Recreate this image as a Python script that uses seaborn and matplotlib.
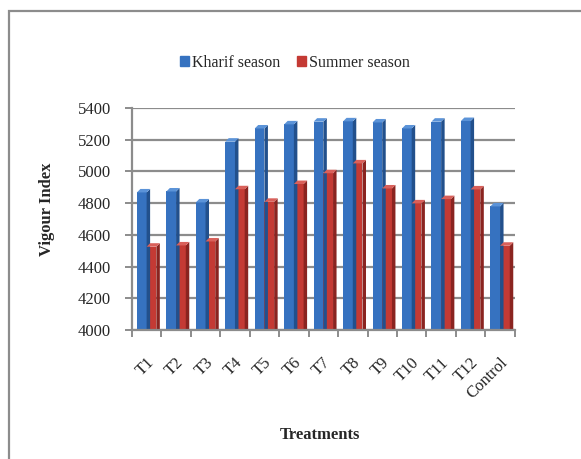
import matplotlib
matplotlib.use("Agg")
import matplotlib.pyplot as plt
import matplotlib.patches as mpatches
import matplotlib.transforms as mtransforms
from matplotlib.ticker import FixedLocator
import seaborn as sns
import pandas as pd

treatments = ["T1", "T2", "T3", "T4", "T5", "T6", "T7", "T8", "T9", "T10", "T11", "T12", "Control"]
kharif = [4867, 4873, 4804, 5187, 5270, 5296, 5313, 5315, 5308, 5270, 5313, 5317, 4779]
summer = [4525, 4533, 4558, 4887, 4808, 4920, 4988, 5050, 4892, 4798, 4825, 4886, 4531]
seasons = ["Kharif season", "Summer season"]
y_ticks = [4000, 4200, 4400, 4600, 4800, 5000, 5200, 5400]

df = pd.DataFrame({
    "Treatment": treatments * 2,
    "Season": [seasons[0]] * len(treatments) + [seasons[1]] * len(treatments),
    "Vigour": kharif + summer,
})

face = {seasons[0]: "#3672C0", seasons[1]: "#C43A34"}
side = {seasons[0]: "#22508C", seasons[1]: "#8A2420"}
top = {seasons[0]: "#5B93D8", seasons[1]: "#D9605A"}

sns.set_style("white")
plt.rcParams["font.family"] = ["Liberation Serif", "DejaVu Serif"]

fig = plt.figure(figsize=(5.81, 4.59), dpi=100)
ax = fig.add_axes([0.227, 0.281, 0.659, 0.484])

sns.barplot(data=df, x="Treatment", y="Vigour", hue="Season", palette=face,
            width=0.66, ax=ax, legend=False, saturation=1, linewidth=0)

n = len(treatments)
ax.set_ylim(4000, 5400)
ax.set_xlim(-0.5, n - 0.5)
ax.set_yticks(y_ticks)
ax.yaxis.grid(True, color="#8C8C8C", lw=1.6)
ax.set_axisbelow(True)
for s in ["top", "right"]:
    ax.spines[s].set_visible(False)
for s in ["left", "bottom"]:
    ax.spines[s].set_color("#8C8C8C")
    ax.spines[s].set_linewidth(1.6)

# fake 3D faces on each bar
fig.canvas.draw()
px_x = ax.bbox.width / n
px_y = ax.bbox.height / 1400
dx = 3.5 / px_x
dy = 3.5 / px_y
for i, p in enumerate(list(ax.patches)):
    season = seasons[0] if i < n else seasons[1]
    x0, y0 = p.get_x(), p.get_y()
    x1, y1 = x0 + p.get_width(), y0 + p.get_height()
    ax.add_patch(mpatches.Polygon([(x1, y0), (x1 + dx, y0 + dy), (x1 + dx, y1 + dy), (x1, y1)],
                                  closed=True, fc=side[season], ec="none", zorder=p.get_zorder()))
    ax.add_patch(mpatches.Polygon([(x0, y1), (x1, y1), (x1 + dx, y1 + dy), (x0 + dx, y1 + dy)],
                                  closed=True, fc=top[season], ec="none", zorder=p.get_zorder()))

# category boundaries get the tick marks, like Excel
ax.xaxis.set_minor_locator(FixedLocator([i - 0.5 for i in range(n + 1)]))
ax.tick_params(axis="x", which="minor", bottom=True, length=5, width=1.4, color="#8C8C8C")
ax.tick_params(axis="y", which="major", left=True, length=5, width=1.4, color="#8C8C8C",
               labelsize=12, pad=10)
ax.tick_params(axis="x", which="major", bottom=False, length=0, labelsize=12, pad=22)
shift = mtransforms.ScaledTranslation(5 / 100, 0, fig.dpi_scale_trans)
for lbl in ax.get_xticklabels():
    lbl.set_rotation(45)
    lbl.set_ha("right")
    lbl.set_va("center")
    lbl.set_rotation_mode("anchor")
    lbl.set_transform(lbl.get_transform() + shift)

ax.set_xlabel("Treatments", fontsize=12, fontweight="bold")
ax.xaxis.set_label_coords(320 / 581, 1 - 427 / 459, transform=fig.transFigure)
ax.set_ylabel("Vigour Index", fontsize=12, fontweight="bold")
ax.yaxis.set_label_coords(55 / 581, 1 - 209 / 459, transform=fig.transFigure)

handles = [mpatches.Patch(color=face[s], label=s) for s in seasons]
ax.legend(handles=handles, loc="center", bbox_to_anchor=(295 / 581, 1 - 63 / 459),
          bbox_transform=fig.transFigure, ncol=2, frameon=False, fontsize=11.5,
          handlelength=0.6, handleheight=0.6, handletextpad=0.2, columnspacing=1.0)

# outer chart border (cropped at right and bottom)
fig.add_artist(mpatches.Rectangle((9 / 581, -0.1), 1.2, 1 - 11 / 459 + 0.1,
                                  transform=fig.transFigure, fill=False,
                                  ec="#8C8C8C", lw=1.6))

fig.savefig("out.png", dpi=100)
